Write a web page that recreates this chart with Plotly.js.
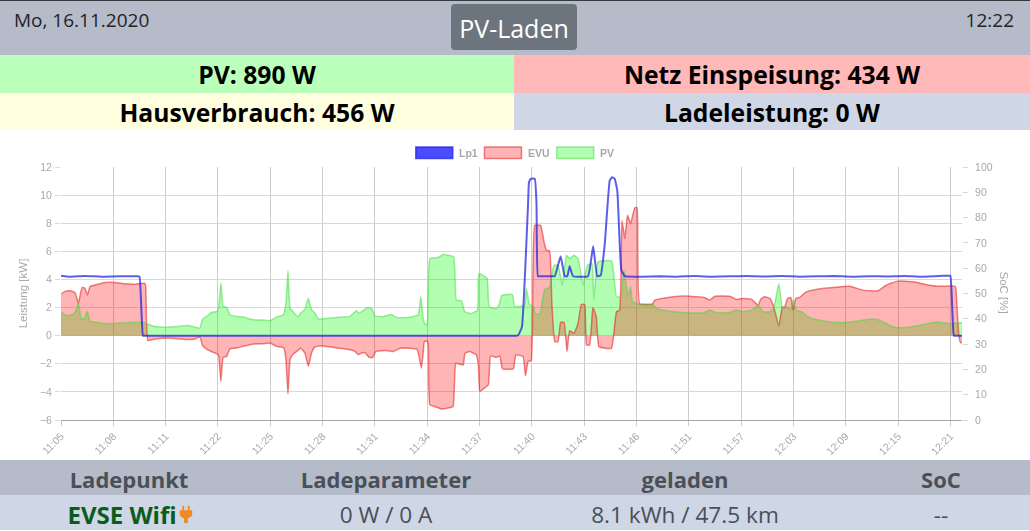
<!DOCTYPE html>
<html lang="de">
<head>
<meta charset="utf-8">
<title>PV-Laden</title>
<script src="https://cdn.plot.ly/plotly-3.0.1.min.js"></script>
<style>
  html, body { margin: 0; padding: 0; background: #fff; }
  body { width: 1030px; height: 531px; overflow: hidden; position: relative;
         font-family: "Open Sans", "Noto Sans", sans-serif; }
  .box { position: absolute; display: flex; align-items: center; justify-content: center; white-space: nowrap; }
  #topline { position: absolute; left: 0; top: 0; width: 1030px; height: 1px; background: #343a40; }
  #head { left: 0; top: 1px; width: 1030px; height: 54px; background: #b5bbc8; }
  #date { position: absolute; left: 14px; top: 6px; font-size: 19px; color: #212529; }
  #clock { position: absolute; right: 16px; top: 6px; font-size: 19px; color: #212529; }
  #mode { left: 451px; top: 4px; width: 126px; height: 46px; background: #6c757d; color: #fff;
          font-size: 25px; border-radius: 4px; padding-top: 1px; box-sizing: border-box; }
  .stat { font-weight: 700; font-size: 24.7px; color: #000; padding-top: 1px; box-sizing: border-box; }
  #pv { left: 0; top: 55px; width: 514px; height: 38px; background: #baffba; }
  #net { left: 514px; top: 55px; width: 516px; height: 38px; background: #ffb9b9; }
  #house { left: 0; top: 93px; width: 514px; height: 37px; background: #ffffe0; }
  #load { left: 514px; top: 93px; width: 516px; height: 37px; background: #cfd6e6; }
  #plot { position: absolute; left: 0; top: 135px; width: 1030px; height: 325px; filter: blur(0.45px); }
  #thead { left: 0; top: 460px; width: 1030px; height: 35px; background: #b5bbc8; }
  #trow { left: 0; top: 495px; width: 1030px; height: 35px; background: #cfd6e6; }
  .cell { position: absolute; transform: translate(-50%, -50%); white-space: nowrap; }
  .th { font-weight: 700; font-size: 22px; color: #495057; top: 479px; }
  .td { font-size: 22.6px; color: #495057; top: 514px; }
  #evse { font-weight: 700; font-size: 24px; color: #0a5c1c; display: flex; align-items: center; gap: 3px; }
</style>
</head>
<body>
<div id="topline"></div>
<div class="box" id="head" style="display:block">
  <div id="date">Mo, 16.11.2020</div>
  <div id="clock">12:22</div>
</div>
<div class="box" id="mode">PV-Laden</div>
<div class="box stat" id="pv">PV: 890 W</div>
<div class="box stat" id="net">Netz Einspeisung: 434 W</div>
<div class="box stat" id="house">Hausverbrauch: 456 W</div>
<div class="box stat" id="load">Ladeleistung: 0 W</div>
<div id="plot"></div>
<div class="box" id="thead"></div>
<div class="box" id="trow"></div>
<div class="cell th" style="left:129px">Ladepunkt</div>
<div class="cell th" style="left:386px">Ladeparameter</div>
<div class="cell th" style="left:685px">geladen</div>
<div class="cell th" style="left:941px">SoC</div>
<div class="cell td" id="evse" style="left:130px">EVSE Wifi
  <svg width="13" height="18" viewBox="0 0 14 19"><path fill="#f08a24" d="M3 0h2v5h4V0h2v5h3v3c0 3-2 5-5 5.5V19H5v-5.5C2 13 0 11 0 8V5h3z"/></svg>
</div>
<div class="cell td" style="left:386px">0 W / 0 A</div>
<div class="cell td" style="left:685px">8.1 kWh / 47.5 km</div>
<div class="cell td" style="left:941px">--</div>

<script>
// X positions are sample numbers (one sample = one slot of the category axis; a label every 18 samples).
const tickLabels = ["11:05","11:08","11:11","11:22","11:25","11:28","11:31","11:34","11:37",
                    "11:40","11:43","11:46","11:51","11:57","12:03","12:09","12:15","12:21"];
const tickSamples = [0,18,36,54,72,90,108,126,144,162,180,198,216,234,252,270,288,306];

const lp1X = [0,3,8,14,20,26,27,28.2,29,30,40,60,80,100,120,140,150,154,155.5,157,157.5,158.6,160.7,161,161.6,163,163.6,164.1,165,169,169.9,171.9,173.3,174.2,175,176.2,181.3,183.1,184.5,185.7,187.1,188.8,189.6,190.5,191.4,192.8,194,200,206,212,218,224,230,236,242,248,254,260,266,272,278,284,290,296,302,305,306,307.2,308,309,310];
const lp1Y = [4.27,4.2,4.24,4.2,4.23,4.22,4.2,0,0,0,0,0,0,0,0,0,0,0,0,0,0.1,0.64,9.39,10.9,11.16,11.16,9.39,4.23,4.23,4.23,4.23,5.65,4.23,4.23,4.94,4.23,4.23,6.36,4.23,4.3,6.55,11.04,11.28,11.16,10.33,4.66,4.23,4.2,4.23,4.2,4.24,4.2,4.22,4.25,4.21,4.24,4.2,4.22,4.24,4.2,4.23,4.21,4.24,4.2,4.25,4.26,4.26,0,0,0,0];

const evuX = [0,1.4,3.1,4.8,6,6.6,7.3,8.2,9.1,10,11.7,15.1,18.6,22,25.5,28.7,29.1,29.9,32.3,36.9,41.5,43.8,46,47.8,48.7,50.1,52.4,53.8,54.3,55,55.8,57,58.1,60.4,62.7,66.1,69.6,71.9,74.2,76.7,77.4,78.1,78.8,79.7,81.6,82.4,83.9,85.1,86.2,87.4,89.7,94.8,99.4,101.1,102.3,103.4,104.5,106,107.2,108.3,112,114.3,116.6,120,122.5,123.2,124,124.6,125,126,126.4,126.9,128.6,130.9,133.2,134.9,135.8,137.2,138.4,139,140.6,142.9,143.6,144.1,145.2,147,147.8,149.8,151,151.9,155.6,156.5,159,159.8,160.7,161.8,163,165,166.2,167,168.1,168.9,169.9,171,171.9,173.1,174.1,175,176.5,177.9,179,180.2,180.8,181.9,183,184.2,185.1,189.4,191.1,192.2,193,194,194.9,196,197.4,198.2,199.1,203.5,204.3,210.6,216.3,221.5,223.2,225,230.1,232.4,234.7,237.6,239.9,240.7,242.1,243.9,245.2,247,248.2,248.9,250,251.1,251.9,252.8,254.1,256.4,259.8,265.6,271.3,275.9,281.1,283.9,287.9,293.1,298.8,301.7,304.6,307.7,308.2,308.9,309.5,310];
const evuY = [2.95,3.15,3.2,3.07,2.3,2.9,3.43,3.38,2.9,3.5,3.6,3.78,3.78,3.69,3.66,3.73,3.6,-0.35,-0.24,-0.17,-0.24,-0.28,-0.24,-0.1,-0.7,-0.95,-1.18,-1.3,-1.47,-3.24,-1.54,-1.47,-0.95,-0.87,-0.76,-0.6,-0.57,-0.52,-0.76,-0.87,-1.7,-4.14,-1.7,-1.35,-1.04,-0.87,-1.23,-2.17,-1.23,-0.8,-0.71,-0.87,-1,-1.11,-1.35,-1.23,-1.2,-1.54,-1.56,-1.13,-1.06,-1.13,-0.9,-0.9,-0.97,-1.49,-2.32,-1.25,-0.43,-0.38,-0.78,-4.92,-5.04,-5.22,-5.15,-5.04,-1.96,-2.03,-2.08,-1.25,-1.13,-1.37,-2.08,-3.97,-3.8,-3.5,-1.44,-1.54,-1.44,-2.36,-2.36,-1.37,-1.49,-2.86,-1.84,-1.75,7.85,7.85,6.67,6.08,6.03,2.29,-0.43,-0.43,0.95,0.95,-1.13,0.35,0.17,0.87,2.22,2.22,-0.66,-0.66,2.01,1.35,-0.78,-0.9,1.7,1.82,8.2,6.9,8.56,7.97,9.1,9.1,2.25,2.25,2.53,2.77,2.81,2.7,2.53,2.81,2.81,2.58,2.65,2.58,2.17,2.58,2.77,2.65,2.06,0.69,2.06,1.99,2.65,2.72,1.82,2.65,2.72,3.12,3.29,3.43,3.52,3.24,3.19,3.59,3.88,3.83,3.59,3.52,3.52,3.52,2.29,0.05,-0.5,-0.5];

const pvX = [0,2,4.2,5.3,6,6.9,8,9.1,10,12.8,15.1,20.9,25.5,28.9,31.2,34.6,40.4,43.8,47.8,48.7,50.1,51.8,53.8,54.3,55,55.8,57,58.1,60.4,62.7,66.1,69.6,71.9,74.2,76.5,77.4,78.1,78.8,79.7,81.6,82.4,83.9,85.1,86.2,87.4,88.5,94.8,99.4,101.6,102.5,105.6,107,107.9,110.8,113.7,115.4,118.8,122.9,123.8,124.6,125.3,126,126.9,129.7,131.5,135.1,136,137.8,138.9,141.2,143.3,143.8,146.6,147.3,149.8,150.7,151.7,155.3,156.1,159.5,160.1,161.3,162.4,163.2,164.7,166.4,168.1,169.6,171,172.5,173.9,175,176.5,177.9,179.6,181.1,182.7,183.3,184.8,189.4,191.1,192.6,193.7,195.1,196,196.6,198.6,203.5,204.9,208.3,214,221,223.2,225.5,230.1,232.4,234.7,237.6,239.9,241.6,243.9,245.2,247,248.1,248.9,249.8,251.1,251.9,253,254.8,257.6,259.8,265.6,271.3,278.8,281.6,286.2,289.7,294.2,301.1,305.7,310];
const pvY = [1.65,1.42,1.54,1.84,2.32,1.25,1.18,1.73,1.02,0.95,0.85,0.9,0.95,0.9,0.71,0.61,0.66,0.73,0.54,1.18,1.37,1.65,1.73,2.08,3.74,2.08,2.01,1.49,1.37,1.32,1.13,1.11,1.06,1.32,1.49,2.32,4.61,1.96,1.73,1.32,1.61,1.84,2.67,1.84,1.61,1.2,1.3,1.37,1.77,1.6,2,1.9,1.4,1.35,1.51,1.3,1.28,1.47,2.77,1.23,0.8,0.8,5.48,5.56,5.77,5.6,2.53,2.48,1.7,1.58,1.82,4.42,4.07,2.06,1.94,2.17,2.88,2.93,2.06,2.17,3.36,2.17,2.13,1.58,1.51,3.29,3.43,5.01,5.01,3.59,5.72,5.48,5.72,5.48,3.59,5.01,5.13,2.53,5.25,5.32,2.77,2.77,4.66,2.81,3.48,2.41,2.25,2.25,1.94,1.77,1.65,1.63,1.82,1.63,1.65,1.82,1.7,1.82,2.17,1.7,1.7,1.94,3.71,2.06,1.99,2.06,1.82,2.53,1.82,1.7,1.28,1.16,0.95,0.95,1.18,1.11,0.64,0.57,0.69,0.97,0.87,0.92];

const legendItems = ["Lp1", "EVU", "PV"];
const gray = "#a8a8a8";
const grid = "#d8d8d8";
const pvLine = "rgba(60,220,60,0.5)";
const evuLine = "rgba(225,30,30,0.55)";
const lp1Line = "rgba(30,30,225,0.72)";
const curve = { shape: "spline", smoothing: 0.35 };

function px(x) { return (x - 61) / 901.5; }
function py(y) { return (420.3 - y) / 253.6; }

const traces = [
  { name: "PV area", x: pvX, y: pvY, mode: "none", fill: "tozeroy", fillcolor: "rgba(0,255,0,0.3)",
    line: { ...curve, width: 0 } },
  { name: "EVU", x: evuX, y: evuY, mode: "lines", fill: "tozeroy", fillcolor: "rgba(255,10,13,0.3)",
    line: { ...curve, color: evuLine, width: 1.5 } },
  { name: "PV", x: pvX, y: pvY, mode: "lines", line: { ...curve, color: pvLine, width: 1.5 } },
  { name: "Lp1", x: lp1X, y: lp1Y, mode: "lines", line: { ...curve, color: lp1Line, width: 2 } },
  { name: "SoC", x: [0], y: [null], yaxis: "y2", mode: "lines", hoverinfo: "skip" }
];

function legendBox(x0, fill, stroke) {
  return { type: "rect", xref: "paper", yref: "paper", x0: px(x0), x1: px(x0 + 37), y0: py(158.3), y1: py(146.7),
           fillcolor: fill, line: { color: stroke, width: 1.5 } };
}
function legendText(x0, text) {
  return { xref: "paper", yref: "paper", x: px(x0), y: py(152.3), text: text, showarrow: false,
           xanchor: "left", yanchor: "middle",
           font: { family: "Liberation Sans", size: 10.5, color: gray, weight: 700 } };
}

const layout = {
  width: 1030, height: 325,
  margin: { l: 61, r: 67.5, t: 31.7, b: 39.7 },
  paper_bgcolor: "#fff", plot_bgcolor: "#fff",
  showlegend: false,
  font: { family: "Liberation Sans", size: 10.5, color: gray },
  xaxis: {
    range: [0, 310], tickmode: "array", tickvals: tickSamples, ticktext: tickLabels, tickangle: -45,
    showgrid: true, gridcolor: "#cccccc", gridwidth: 1, zeroline: false,
    showline: true, linecolor: "#a6a6a6", linewidth: 1,
    ticks: "outside", ticklen: 5, tickcolor: "#cccccc", tickfont: { size: 10.5, color: gray }
  },
  yaxis: {
    range: [-6, 12], dtick: 2, tick0: 0, showgrid: true, gridcolor: grid, gridwidth: 1, zeroline: false,
    showline: false, ticks: "outside", ticklen: 5, tickcolor: grid, ticklabelstandoff: 1,
    title: { text: "Leistung [kW]", font: { size: 11.5, color: gray }, standoff: 9 }
  },
  yaxis2: {
    range: [0, 100], dtick: 10, overlaying: "y", side: "right", showgrid: false, zeroline: false,
    showline: false, ticks: "outside", ticklen: 5, tickcolor: grid, ticklabelstandoff: 5
  },
  shapes: [
    legendBox(416, "rgba(0,0,255,0.7)", lp1Line),
    legendBox(484.7, "rgba(255,10,13,0.3)", evuLine),
    legendBox(557, "rgba(0,255,0,0.3)", pvLine)
  ],
  annotations: [
    legendText(457, legendItems[0]), legendText(526, legendItems[1]), legendText(598, legendItems[2]),
    { xref: "paper", yref: "paper", x: px(1005), y: py(293), text: "SoC [%]", textangle: 90, showarrow: false,
      xanchor: "center", yanchor: "middle", font: { family: "Liberation Sans", size: 11.5, color: gray } }
  ]
};

Plotly.newPlot("plot", traces, layout, { displayModeBar: false, staticPlot: true });
</script>
</body>
</html>
